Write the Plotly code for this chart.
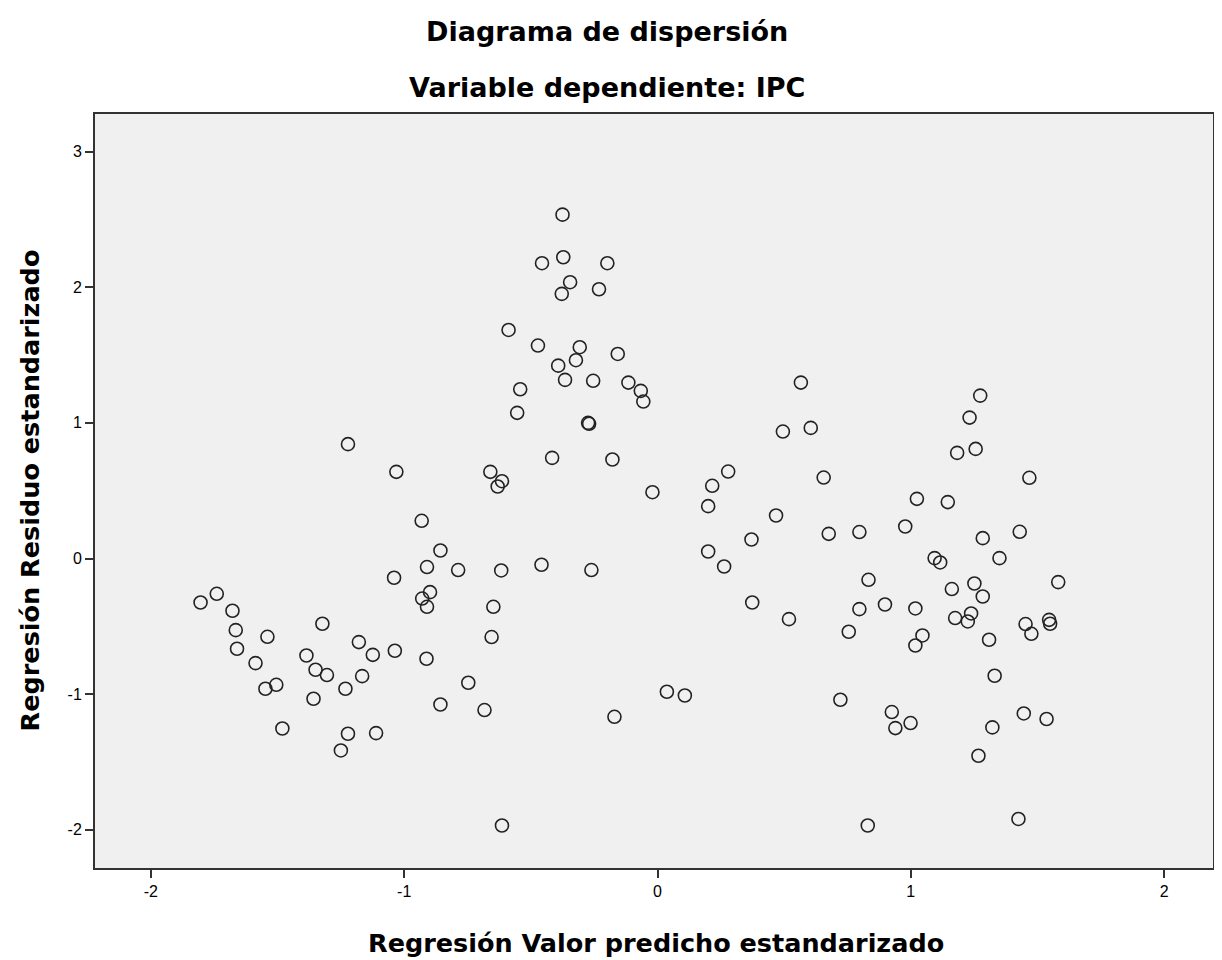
import plotly.graph_objects as go

# Regresión Valor predicho estandarizado (x) and Regresión Residuo estandarizado (y)
pred_x = [
    -1.804, -1.740, -1.678, -1.665, -1.660, -1.540, -1.587, -1.548, -1.505, -1.481,
    -1.323, -1.386, -1.350, -1.305, -1.358, -1.232, -1.179, -1.124, -1.166, -1.222,
    -1.250, -1.111, -1.222, -1.040, -1.037, -0.931, -0.857, -0.910, -0.787, -0.617,
    -0.458, -0.261, -0.898, -0.929, -0.910, -0.648, -0.655, -0.912, -0.747, -0.857,
    -0.683, -0.170, -0.614, 0.037, 0.108, -0.375, -0.456, -0.372, -0.198, -0.345,
    -0.378, -0.231, -0.588, -0.472, -0.307, -0.322, -0.157, -0.392, -0.365, -0.254,
    -0.115, -0.066, -0.056, -0.542, -0.554, -0.274, -0.270, -0.416, -0.178, -1.031,
    -0.660, -0.614, -0.631, -0.020, 0.566, 0.495, 0.605, 0.279, 0.216, 0.200,
    0.656, 0.468, 0.371, 0.676, 0.797, 1.024, 1.146, 0.978, 1.183, 0.200,
    0.263, 0.374, 0.519, 1.094, 1.116, 0.833, 1.162, 0.797, 0.898, 1.018,
    0.755, 1.046, 1.018, 1.175, 0.722, 0.925, 0.939, 0.999, 0.830, 1.274,
    1.232, 1.256, 1.468, 1.284, 1.430, 1.350, 1.582, 1.251, 1.284, 1.238,
    1.225, 1.453, 1.476, 1.546, 1.550, 1.309, 1.331, 1.446, 1.536, 1.322,
    1.267, 1.425,
]
resid_y = [
    -0.324, -0.260, -0.385, -0.528, -0.665, -0.577, -0.771, -0.960, -0.931, -1.253,
    -0.481, -0.715, -0.820, -0.859, -1.034, -0.960, -0.616, -0.710, -0.867, -1.292,
    -1.415, -1.287, 0.843, -0.142, -0.680, 0.278, 0.059, -0.063, -0.085, -0.088,
    -0.046, -0.085, -0.248, -0.295, -0.356, -0.356, -0.579, -0.739, -0.916, -1.076,
    -1.117, -1.167, -1.968, -0.982, -1.010, 2.535, 2.177, 2.221, 2.177, 2.037,
    1.951, 1.985, 1.685, 1.570, 1.558, 1.462, 1.508, 1.422, 1.317, 1.310,
    1.297, 1.236, 1.157, 1.248, 1.074, 1.000, 0.993, 0.742, 0.730, 0.639,
    0.639, 0.570, 0.531, 0.489, 1.297, 0.936, 0.963, 0.641, 0.536, 0.386,
    0.597, 0.317, 0.140, 0.182, 0.195, 0.440, 0.416, 0.236, 0.779, 0.052,
    -0.059, -0.324, -0.447, 0.003, -0.029, -0.157, -0.225, -0.373, -0.339, -0.368,
    -0.540, -0.567, -0.641, -0.439, -1.041, -1.132, -1.250, -1.213, -1.968, 1.201,
    1.039, 0.808, 0.595, 0.150, 0.197, 0.003, -0.174, -0.184, -0.280, -0.405,
    -0.464, -0.483, -0.555, -0.452, -0.481, -0.599, -0.864, -1.142, -1.183, -1.245,
    -1.454, -1.920,
]

x_ticks = [-2, -1, 0, 1, 2]
y_ticks = [-2, -1, 0, 1, 2, 3]

title_main = "Diagrama de dispersión"
title_sub = "Variable dependiente: IPC"
x_title = "Regresión Valor predicho estandarizado"
y_title = "Regresión Residuo estandarizado"

TICK_FONT = "Liberation Sans, Arial, sans-serif"
TITLE_FONT = "DejaVu Sans, Liberation Sans, sans-serif"

fig = go.Figure()
fig.add_trace(go.Scatter(
    x=pred_x, y=resid_y, mode="markers",
    marker=dict(symbol="circle-open", size=13, color="#222222",
                line=dict(width=1.6, color="#222222")),
    showlegend=False, hoverinfo="x+y",
))

axis_common = dict(
    showgrid=False, zeroline=False, showline=True, linecolor="#333333",
    linewidth=2, mirror=True, ticks="outside", ticklen=8, tickwidth=1.5,
    tickcolor="#333333", tickfont=dict(family=TICK_FONT, size=16, color="#000000"),
)

fig.update_layout(
    width=1214, height=952,
    margin=dict(l=87, r=7, t=106, b=92),
    paper_bgcolor="#FFFFFF", plot_bgcolor="#F0F0F0",
    xaxis=dict(range=[-2.2207, 2.193], tickvals=x_ticks,
               ticktext=[str(v) for v in x_ticks], **axis_common),
    yaxis=dict(range=[-2.2815, 3.277], tickvals=y_ticks,
               ticktext=[str(v) for v in y_ticks], **axis_common),
    annotations=[
        dict(text=title_main, xref="paper", yref="paper", x=0.458, y=1.1088,
             xanchor="center", yanchor="middle", showarrow=False,
             font=dict(family=TITLE_FONT, size=27, color="#000000", weight="bold")),
        dict(text=title_sub, xref="paper", yref="paper", x=0.458, y=1.0345,
             xanchor="center", yanchor="middle", showarrow=False,
             font=dict(family=TITLE_FONT, size=27, color="#000000", weight="bold")),
        dict(text=x_title, xref="paper", yref="paper", x=0.5018, y=-0.0995,
             xanchor="center", yanchor="middle", showarrow=False,
             font=dict(family=TITLE_FONT, size=25.5, color="#000000", weight="bold")),
        dict(text=y_title, xref="paper", yref="paper", x=-0.058, y=0.501,
             xanchor="center", yanchor="middle", showarrow=False, textangle=-90,
             font=dict(family=TITLE_FONT, size=25.5, color="#000000", weight="bold")),
    ],
)

fig.write_html("out.html")
